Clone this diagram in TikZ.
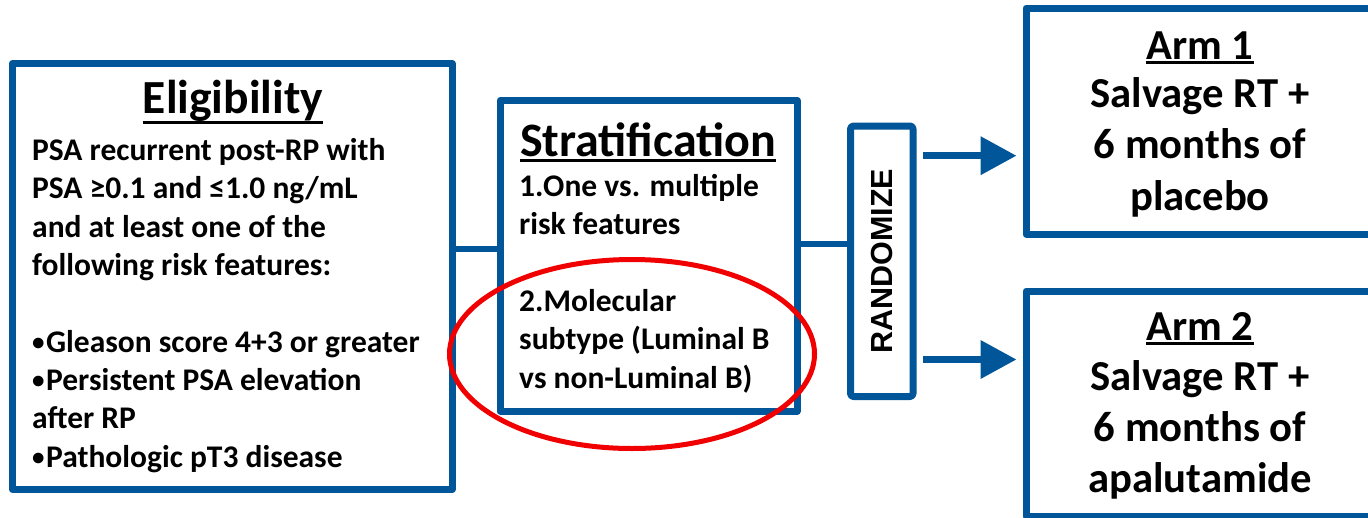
\documentclass[tikz,border=0pt]{standalone}
\usepackage{fontspec}
\setmainfont{Carlito}
\newfontfamily\arialfam{Liberation Sans}
\usetikzlibrary{arrows.meta,calc}
\definecolor{boxblue}{RGB}{0,86,152}
\definecolor{ringred}{RGB}{240,0,0}
\newcommand\smbul{\raisebox{2pt}{\fontsize{25}{25}\selectfont •}\kern1.5pt}
\tikzset{
  frame/.style={draw=boxblue, line width=7pt, line join=round, inner sep=0pt, fill=white},
  link/.style={draw=boxblue, line width=6pt},
  arr/.style={draw=boxblue, line width=7pt, -{Triangle[length=36pt,width=37pt]}},
  titletext/.style={inner sep=0pt, font=\fontsize{47.5}{58}\selectfont\bfseries},
  armtitle/.style={inner sep=0pt, font=\fontsize{42.7}{51}\selectfont\bfseries},
  bodytext/.style={inner sep=0pt, align=left, font=\fontsize{31.5}{38.3}\selectfont\bfseries},
  armtext/.style={inner sep=0pt, align=center, font=\fontsize{42.7}{51.2}\selectfont\bfseries},
  uline/.style={draw=black, line width=2.7pt},
}
\begin{document}
\begin{tikzpicture}[x=1pt,y=-1pt]
\useasboundingbox[fill=white] (0,0) rectangle (1368,517);
% boxes
\node[frame, minimum width=439.5pt, minimum height=426pt] (elig) at (232.25,276.5) {};
\node[frame, minimum width=297pt, minimum height=310.5pt] (strat) at (648.5,255.75) {};
\node[frame, rounded corners=3pt, minimum width=62.5pt, minimum height=270.5pt] (rand) at (881.75,261.25) {};
\node[frame, minimum width=348pt, minimum height=226pt] (arm1) at (1200,121) {};
\node[frame, minimum width=348pt, minimum height=225pt] (arm2) at (1200,403.5) {};
% connectors
\coordinate (ya) at (0,249);
\coordinate (yb) at (0,244);
\draw[link] (elig.east |- ya) -- (strat.west |- ya);
\draw[link] (strat.east |- yb) -- (rand.west |- yb);
\coordinate (y1) at (0,155.7);
\coordinate (y2) at (0,359.5);
\draw[arr] ([xshift=6.5pt]rand.east |- y1) -- ([xshift=-6pt]arm1.west |- y1);
\draw[arr] ([xshift=6.5pt]rand.east |- y2) -- ([xshift=-6pt]arm2.west |- y2);
% Eligibility text
\node[titletext, anchor=base] (eligt) at (233,113.5) {Eligibility};
\draw[uline] ([yshift=-8.7pt]eligt.base west) -- ([yshift=-8.7pt]eligt.base east);
\node[bodytext, anchor=base west] (eligb) at (32,467) {PSA recurrent post-RP with\\PSA ≥0.1 and ≤1.0 ng/mL\\and at least one of the\\following risk features:\\[38.3pt]\smbul Gleason score 4+3 or greater\\\smbul Persistent PSA elevation\\after RP\\\smbul Pathologic pT3 disease};
% Stratification text
\node[titletext, font=\fontsize{48}{58}\selectfont\bfseries, anchor=base] (stratt) at (648,156) {Stratification};
\draw[uline] ([yshift=-4.5pt]stratt.base west) -- ([yshift=-4.5pt]stratt.base east);
\node[bodytext, anchor=base west] (stratb) at (519,388) {1.One vs. multiple\\risk features\\[38.3pt]2.Molecular\\subtype (Luminal B\\vs non-Luminal B)};
% Randomize
\node[inner sep=0pt, rotate=90, font=\fontsize{30.5}{36}\arialfam\bfseries] (randt) at (rand.center) {RANDOMIZE};
% Arms
\node[armtitle, anchor=base] (arm1t) at (1200,59.3) {Arm 1};
\draw[uline] ([yshift=-3.5pt]arm1t.base west) -- ([yshift=-3.5pt]arm1t.base east);
\node[armtext, anchor=base] (arm1b) at (1200,210) {Salvage RT +\\6 months of\\placebo};
\node[armtitle, anchor=base] (arm2t) at (1200,340) {Arm 2};
\draw[uline] ([yshift=-3.5pt]arm2t.base west) -- ([yshift=-3.5pt]arm2t.base east);
\node[armtext, anchor=base] (arm2b) at (1200,492.7) {Salvage RT +\\6 months of\\apalutamide};
% red ring
\draw[ringred, line width=5pt] (632,354) ellipse [x radius=182.5pt, y radius=94.5pt];
\end{tikzpicture}
\end{document}
